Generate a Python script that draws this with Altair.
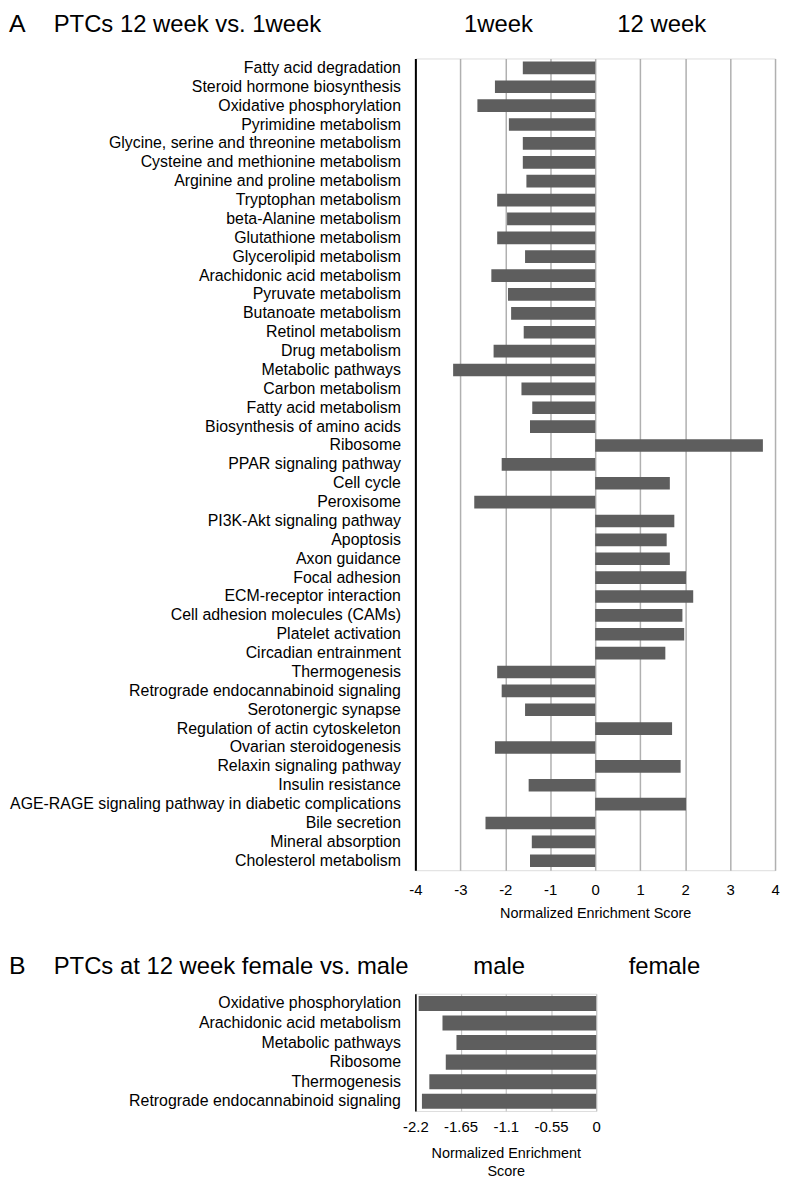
import altair as alt
import pandas as pd

FONT = "Liberation Sans"

# ---------------- Panel A data ----------------
pathways_a = [
    "Fatty acid degradation",
    "Steroid hormone biosynthesis",
    "Oxidative phosphorylation",
    "Pyrimidine metabolism",
    "Glycine, serine and threonine metabolism",
    "Cysteine and methionine metabolism",
    "Arginine and proline metabolism",
    "Tryptophan metabolism",
    "beta-Alanine metabolism",
    "Glutathione metabolism",
    "Glycerolipid metabolism",
    "Arachidonic acid metabolism",
    "Pyruvate metabolism",
    "Butanoate metabolism",
    "Retinol metabolism",
    "Drug metabolism",
    "Metabolic pathways",
    "Carbon metabolism",
    "Fatty acid metabolism",
    "Biosynthesis of amino acids",
    "Ribosome",
    "PPAR signaling pathway",
    "Cell cycle",
    "Peroxisome",
    "PI3K-Akt signaling pathway",
    "Apoptosis",
    "Axon guidance",
    "Focal adhesion",
    "ECM-receptor interaction",
    "Cell adhesion molecules (CAMs)",
    "Platelet activation",
    "Circadian entrainment",
    "Thermogenesis",
    "Retrograde endocannabinoid signaling",
    "Serotonergic synapse",
    "Regulation of actin cytoskeleton",
    "Ovarian steroidogenesis",
    "Relaxin signaling pathway",
    "Insulin resistance",
    "AGE-RAGE signaling pathway in diabetic complications",
    "Bile secretion",
    "Mineral absorption",
    "Cholesterol metabolism",
]
nes_a = [
    -1.61, -2.23, -2.62, -1.92, -1.61, -1.61, -1.53, -2.18, -1.96, -2.18,
    -1.56, -2.31, -1.94, -1.87, -1.59, -2.26, -3.16, -1.64, -1.40, -1.45,
    3.73, -2.08, 1.66, -2.69, 1.76, 1.59, 1.66, 2.02, 2.18, 1.94,
    1.98, 1.56, -2.18, -2.08, -1.56, 1.71, -2.23, 1.90, -1.48, 2.02,
    -2.44, -1.41, -1.45,
]
ticks_a = [-4, -3, -2, -1, 0, 1, 2, 3, 4]
headers_a = ["1week", "12 week"]
headers_a_pos = [-2.15, 1.48]

# ---------------- Panel B data ----------------
pathways_b = [
    "Oxidative phosphorylation",
    "Arachidonic acid metabolism",
    "Metabolic pathways",
    "Ribosome",
    "Thermogenesis",
    "Retrograde endocannabinoid signaling",
]
nes_b = [-2.16, -1.87, -1.70, -1.83, -2.03, -2.12]
ticks_b = [-2.2, -1.65, -1.1, -0.55, 0]
headers_b = ["male", "female"]
headers_b_pos = [-1.18, 0.83]

BAR = "#5e5e5e"


def panel(pathways, nes, ticks, domain, headers, hpos, letter, title,
          width, height, pad_inner, axis_title, grid_color, grid_width,
          domain_width, head_y, label_pad, title_pad):
    df = pd.DataFrame({"pathway": pathways, "nes": nes})
    hdf = pd.DataFrame({"label": headers, "nes": hpos})
    ldf = pd.DataFrame({"label": [letter]})
    tdf = pd.DataFrame({"label": [title]})

    xscale = alt.Scale(domain=domain, nice=False, zero=False)
    bars = alt.Chart(df).mark_bar(color=BAR).encode(
        x=alt.X(
            "nes:Q",
            scale=xscale,
            stack=None,
            axis=alt.Axis(
                values=ticks,
                labelExpr="'' + datum.value",
                grid=True,
                gridColor=grid_color,
                gridWidth=grid_width,
                domain=False,
                ticks=False,
                tickSize=0,
                labelFlush=False,
                labelFontSize=15,
                labelFont=FONT,
                labelColor="black",
                labelPadding=label_pad,
                title=axis_title,
                titleFont=FONT,
                titleFontSize=14.5,
                titleFontWeight="normal",
                titleColor="black",
                titlePadding=title_pad,
                titleLineHeight=18,
            ),
        ),
        x2=alt.datum(0),
        y=alt.Y(
            "pathway:N",
            sort=pathways,
            scale=alt.Scale(paddingInner=pad_inner, paddingOuter=pad_inner / 2),
            axis=alt.Axis(
                title=None,
                ticks=False,
                tickSize=0,
                labelFont=FONT,
                labelFontSize=16,
                labelColor="black",
                labelPadding=15,
                labelLimit=420,
                domainColor="black",
                domainWidth=domain_width,
                grid=False,
                minExtent=409,
                maxExtent=409,
            ),
        ),
    )

    head = alt.Chart(hdf).mark_text(
        font=FONT, fontSize=24, color="black", align="center", baseline="alphabetic"
    ).encode(x=alt.X("nes:Q", scale=xscale), y=alt.value(head_y), text="label:N")

    let = alt.Chart(ldf).mark_text(
        font=FONT, fontSize=25, color="black", align="left", baseline="alphabetic"
    ).encode(x=alt.value(-409), y=alt.value(head_y), text="label:N")

    ttl = alt.Chart(tdf).mark_text(
        font=FONT, fontSize=24, color="black", align="left", baseline="alphabetic"
    ).encode(x=alt.value(-364), y=alt.value(head_y), text="label:N")

    return alt.layer(bars, head, let, ttl).properties(width=width, height=height)


chart_a = panel(
    pathways_a, nes_a, ticks_a, [-4, 4], headers_a, headers_a_pos,
    "A", "PTCs 12 week vs. 1week", 362, 817, 0.33,
    "Normalized Enrichment Score", "#b0b0b0", 1.5, 2, -26.5, 12, 10,
)
chart_b = panel(
    pathways_b, nes_b, ticks_b, [-2.2, 0], headers_b, headers_b_pos,
    "B", "PTCs at 12 week female vs. male", 182, 118, 0.23,
    ["Normalized Enrichment", "Score"], "#c6c6c6", 1.2, 1.5, -20, 9, 11.5,
)

chart = (
    alt.vconcat(chart_a, chart_b, spacing=32.3)
    .properties(padding=0)
    .configure_view(stroke=None)
    .configure(background="white")
)

chart.save("out.html", embed_options={"renderer": "svg", "actions": False})
